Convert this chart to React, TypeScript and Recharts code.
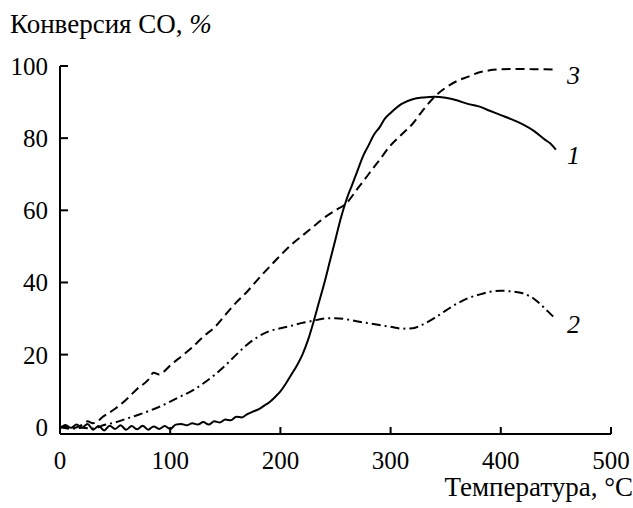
import { LineChart, Line, XAxis, YAxis, LabelList } from 'recharts';

// температура, °C и конверсия CO, % для трёх образцов
const temps1 = [0, 5, 10, 15, 20, 25, 30, 35, 40, 45, 50, 55, 60, 65, 70, 75, 80, 85, 90, 95, 100, 105, 110, 115, 120, 125, 130, 135, 140, 145, 150, 155, 160, 165, 170, 175, 180, 185, 190, 195, 200, 205, 210, 215, 220, 225, 230, 235, 240, 245, 250, 255, 260, 265, 270, 275, 280, 285, 290, 295, 300, 310, 320, 330, 340, 350, 360, 370, 380, 390, 400, 410, 420, 430, 440, 445, 450];
const conv1 = [-0.5, 0.5, -0.3, 0.6, -0.2, 0.8, -0.8, 0.2, -1, 0.3, -0.6, 0.4, -0.8, 0.2, -0.7, 0.3, -0.8, 0.1, -0.6, 0.2, -0.6, 0.6, 0.8, 0.4, 1.0, 0.6, 1.3, 0.6, 1.5, 1.2, 2.0, 1.8, 2.8, 2.6, 3.5, 4.2, 4.8, 5.8, 6.8, 8.2, 9.8, 12, 14.5, 17, 20, 24, 29, 34.5, 40, 46, 52, 58, 63, 67, 71, 75, 78, 81, 83, 85.5, 87, 89.5, 90.8, 91.3, 91.5, 91.2, 90.5, 89.5, 88.8, 87.6, 86.4, 85.2, 83.8, 82, 79.6, 78.5, 76.8];

const temps2 = [0, 10, 20, 30, 40, 50, 60, 70, 80, 90, 100, 110, 120, 130, 140, 150, 160, 170, 180, 190, 200, 210, 220, 230, 240, 250, 260, 270, 280, 290, 300, 310, 320, 330, 340, 350, 360, 370, 380, 390, 400, 410, 420, 430, 440, 445, 450];
const conv2 = [0, -0.5, -0.3, -0.5, 0.5, 1.2, 2.2, 3.2, 4.3, 5.5, 7, 8.5, 10, 12, 14.3, 17, 20, 22.8, 25, 26.5, 27.3, 28, 28.8, 29.4, 30, 30.1, 29.8, 29.2, 28.7, 28.2, 27.7, 27.2, 27.3, 28.5, 30.2, 32.2, 34.1, 35.6, 36.6, 37.4, 37.7, 37.5, 37.0, 35.5, 32.8, 31.3, 29.9];

const temps3 = [0, 10, 20, 25, 30, 40, 50, 60, 70, 80, 85, 90, 95, 100, 110, 120, 130, 140, 150, 160, 170, 180, 190, 200, 210, 220, 230, 240, 250, 260, 270, 280, 290, 300, 310, 320, 330, 340, 350, 360, 370, 380, 390, 400, 410, 420, 430, 440, 450];
const conv3 = [0, -0.5, 0.5, 1.5, 1.0, 3, 5, 7.5, 10.5, 13, 15, 14.5, 15.5, 17, 19.5, 22, 25, 27.5, 31, 34.5, 37.5, 41, 44.3, 47.5, 50.5, 53, 55.5, 58, 60, 62, 66, 70, 74, 78, 81, 84, 88, 91.5, 94, 95.8, 97, 98.2, 98.8, 99.1, 99.2, 99.2, 99.1, 99.1, 99];

const xTicks = [0, 100, 200, 300, 400, 500];
const yTicks = [0, 20, 40, 60, 80, 100];

const FONT = "'Liberation Serif', Tinos, 'Times New Roman', Times, serif";
const TICK_FS = 25;
const TITLE_FS = 27;

const toRows = (xs: number[], ys: number[]) => xs.map((t, i) => ({ t, v: ys[i] }));
const data1 = toRows(temps1, conv1);
const data2 = toRows(temps2, conv2);
const data3 = toRows(temps3, conv3);

function XTick({ x, y, payload }: any) {
  return (
    <g>
      <line x1={x} y1={y} x2={x} y2={y - 7} stroke="#000" strokeWidth={2} />
      <text x={x} y={y + 35} textAnchor="middle" style={{ fontFamily: FONT, fontSize: TICK_FS }} fill="#000">
        {payload.value}
      </text>
    </g>
  );
}

function YTick({ x, y, payload }: any) {
  return (
    <g>
      <line x1={x} y1={y} x2={x + 8} y2={y} stroke="#000" strokeWidth={2} />
      <text x={x - 12} y={y + 9} textAnchor="end" style={{ fontFamily: FONT, fontSize: TICK_FS }} fill="#000">
        {payload.value}
      </text>
    </g>
  );
}

const curveLabel = (name: string, last: number) => (props: any) => {
  if (props.index !== last) return null;
  return (
    <text x={props.x + 11} y={props.y + 14} style={{ fontFamily: FONT, fontSize: 26, fontStyle: 'italic' }} fill="#000">
      {name}
    </text>
  );
};

export default function App() {
  return (
    <div style={{ position: 'relative', width: 633, height: 508, background: '#fff', fontFamily: FONT }}>
      <style>{'html,body{margin:0;padding:0;overflow:hidden;}'}</style>
      <div style={{ position: 'absolute', left: 10, top: 9, fontSize: TITLE_FS, lineHeight: '30px', whiteSpace: 'nowrap' }}>
        Конверсия CO, <i>%</i>
      </div>
      <div style={{ position: 'absolute', right: 0, top: 472, fontSize: TITLE_FS, lineHeight: '30px', whiteSpace: 'nowrap' }}>
        Температура, °C
      </div>
      <LineChart width={633} height={508} margin={{ top: 66, right: 22, bottom: 0, left: 0 }}>
        <XAxis
          dataKey="t"
          type="number"
          domain={[0, 500]}
          ticks={xTicks}
          height={74}
          tickSize={0}
          tickMargin={0}
          tickLine={false}
          tick={<XTick />}
          axisLine={{ stroke: '#000', strokeWidth: 2 }}
          allowDuplicatedCategory={false}
        />
        <YAxis
          type="number"
          domain={[-2, 100]}
          ticks={yTicks}
          width={60}
          tickSize={0}
          tickMargin={0}
          tickLine={false}
          tick={<YTick />}
          axisLine={{ stroke: '#000', strokeWidth: 2 }}
          allowDataOverflow
        />
        <Line data={data3} dataKey="v" type="monotone" stroke="#000" strokeWidth={2} strokeDasharray="9 5" dot={false} isAnimationActive={false}>
          <LabelList dataKey="v" content={curveLabel('3', data3.length - 1)} />
        </Line>
        <Line data={data2} dataKey="v" type="monotone" stroke="#000" strokeWidth={2} strokeDasharray="9 4 2 4" dot={false} isAnimationActive={false}>
          <LabelList dataKey="v" content={curveLabel('2', data2.length - 1)} />
        </Line>
        <Line data={data1} dataKey="v" type="monotone" stroke="#000" strokeWidth={2} dot={false} isAnimationActive={false}>
          <LabelList dataKey="v" content={curveLabel('1', data1.length - 1)} />
        </Line>
      </LineChart>
    </div>
  );
}
